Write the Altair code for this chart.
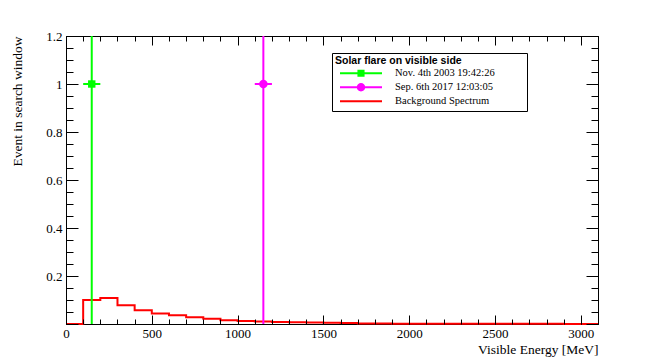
import altair as alt
import pandas as pd

# ---------------- data ----------------
# Background spectrum histogram (100 MeV bins, 0 - 3100 MeV)
bin_low = [0, 100, 200, 300, 400, 500, 600, 700, 800, 900,
           1000, 1100, 1200, 1300, 1400, 1500, 1600, 1700, 1800, 1900,
           2000, 2100, 2200, 2300, 2400, 2500, 2600, 2700, 2800, 2900, 3000]
bin_high_edge = 3100
bkg_values = [0.0, 0.100, 0.108, 0.078, 0.057, 0.044, 0.036, 0.028, 0.022, 0.016,
              0.012, 0.010, 0.008, 0.007, 0.006, 0.005, 0.0045, 0.002, 0.002, 0.0015,
              0.0015, 0.001, 0.001, 0.001, 0.001, 0.0008, 0.0008, 0.0006, 0.0006, 0.0005, 0.0005]

# Solar flare events
flare_labels = ["Nov. 4th 2003 19:42:26", "Sep. 6th 2017 12:03:05"]
flare_energy = [150, 1150]
flare_energy_err = [50, 50]
flare_events = [1.0, 1.0]
flare_events_err = [1.0, 1.0]
flare_colors = ["#00ff00", "#ff00ff"]
flare_markers = ["square", "circle"]
flare_marker_sizes = [55, 72]

# Legend
legend_title = "Solar flare on visible side"
legend_labels = flare_labels + ["Background Spectrum"]
legend_colors = ["#00ff00", "#ff00ff", "#ff0000"]
legend_symbols = [
    "M-1,-0.05H1V0.05H-1Z M-0.17,-0.17H0.17V0.17H-0.17Z",
    "M-1,-0.05H1V0.05H-1Z M0.2,0A0.2,0.2,0,1,1,-0.2,0A0.2,0.2,0,1,1,0.2,0Z",
    "M-1,-0.05H1V0.05H-1Z",
]

# Axis tick values
x_major = [0, 500, 1000, 1500, 2000, 2500, 3000]
x_minor = [0, 100, 200, 300, 400, 500, 600, 700, 800, 900, 1000, 1100, 1200, 1300,
           1400, 1500, 1600, 1700, 1800, 1900, 2000, 2100, 2200, 2300, 2400, 2500,
           2600, 2700, 2800, 2900, 3000, 3100]
y_major = [0, 0.2, 0.4, 0.6, 0.8, 1.0, 1.2]
y_labels = [0.2, 0.4, 0.6, 0.8, 1.0, 1.2]
y_minor = [0, 0.05, 0.1, 0.15, 0.2, 0.25, 0.3, 0.35, 0.4, 0.45, 0.5, 0.55, 0.6,
           0.65, 0.7, 0.75, 0.8, 0.85, 0.9, 0.95, 1.0, 1.05, 1.1, 1.15, 1.2]

# ---------------- tables ----------------
hist_df = pd.DataFrame({
    "energy": bin_low + [bin_high_edge],
    "events": bkg_values + [bkg_values[-1]],
})

flare_df = pd.DataFrame({
    "label": flare_labels,
    "energy": flare_energy,
    "e_lo": [e - d for e, d in zip(flare_energy, flare_energy_err)],
    "e_hi": [e + d for e, d in zip(flare_energy, flare_energy_err)],
    "events": flare_events,
    "ev_lo": [v - d for v, d in zip(flare_events, flare_events_err)],
    "ev_hi": [v + d for v, d in zip(flare_events, flare_events_err)],
    "color": flare_colors,
    "marker": flare_markers,
    "msize": flare_marker_sizes,
})

legend_df = pd.DataFrame({"label": legend_labels})

# ---------------- layout ----------------
W, H = 532, 288
SERIF = "Liberation Serif"

xscale = alt.Scale(domain=[0, 3100], nice=False, zero=False)
yscale = alt.Scale(domain=[0, 1.2], nice=False, zero=False)


def tick_axis(orient, values, size):
    return alt.Axis(orient=orient, offset=-size, tickSize=size, values=values,
                    labels=False, domain=False, grid=False, title="",
                    tickColor="black", tickWidth=1, zindex=1)


main_x = alt.Axis(orient="bottom", values=x_major, format="d", ticks=False, tickSize=0,
                  domain=False, grid=False, labelFont=SERIF, labelFontSize=13,
                  labelColor="black", labelPadding=3, labelFlush=False, labelOverlap=False,
                  title="Visible Energy [MeV]", titleFont=SERIF, titleFontSize=13.5,
                  titleFontWeight="normal", titleColor="black", titleAnchor="end",
                  titleAlign="right", titleBaseline="alphabetic", titleX=W, titleY=29)

main_y = alt.Axis(orient="left", values=y_labels, format="~g", ticks=False, tickSize=0,
                  domain=False, grid=False, labelFont=SERIF, labelFontSize=13,
                  labelColor="black", labelPadding=4, labelFlush=False, labelOverlap=False,
                  title="Event in search window", titleFont=SERIF, titleFontSize=13.5,
                  titleFontWeight="normal", titleColor="black", titleAnchor="end",
                  titleAngle=270, titleAlign="right", titleBaseline="middle",
                  titleX=-49, titleY=0)

pad_tail = "\u00a0" * 11 + "\u200b"
leg = alt.Legend(title=legend_title, orient="none", legendX=266, legendY=17,
                 direction="vertical", fillColor="white", strokeColor="black",
                 padding=3, cornerRadius=0,
                 titleFont="Liberation Sans", titleFontSize=10.5, titleFontWeight="bold",
                 titleColor="black", titlePadding=0, titleAnchor="start",
                 labelFont=SERIF, labelFontSize=10.5, labelColor="black",
                 labelOffset=13, labelLimit=300,
                 labelExpr="datum.label + '" + pad_tail + "'",
                 symbolSize=1764, symbolOffset=5, symbolOpacity=1, symbolStrokeWidth=0,
                 clipHeight=13.5, rowPadding=0)

hist = alt.Chart(hist_df).mark_line(interpolate="step-after", color="#ff0000",
                                    strokeWidth=2).encode(
    x=alt.X("energy:Q", scale=xscale, axis=main_x),
    y=alt.Y("events:Q", scale=yscale, axis=main_y),
)

hbar = alt.Chart(flare_df).mark_rule(strokeWidth=2).encode(
    x=alt.X("e_lo:Q", scale=xscale, axis=tick_axis("bottom", x_major, 9)),
    x2="e_hi:Q",
    y=alt.Y("events:Q", scale=yscale, axis=tick_axis("left", y_major, 12)),
    color=alt.Color("color:N", scale=None),
)

vbar = alt.Chart(flare_df).mark_rule(strokeWidth=2, clip=True).encode(
    x=alt.X("energy:Q", scale=xscale, axis=tick_axis("bottom", x_minor, 5)),
    y=alt.Y("ev_lo:Q", scale=yscale, axis=tick_axis("left", y_minor, 7)),
    y2="ev_hi:Q",
    color=alt.Color("color:N", scale=None),
)

points = alt.Chart(flare_df).mark_point(filled=True, opacity=1).encode(
    x=alt.X("energy:Q", scale=xscale, axis=tick_axis("top", x_major, 9)),
    y=alt.Y("events:Q", scale=yscale, axis=tick_axis("right", y_major, 12)),
    color=alt.Color("color:N", scale=None),
    shape=alt.Shape("marker:N", scale=None),
    size=alt.Size("msize:Q", scale=None),
)

legend_layer = alt.Chart(legend_df).mark_point(filled=True, opacity=0).encode(
    x=alt.XDatum(0, type="quantitative", scale=xscale, axis=tick_axis("top", x_minor, 5)),
    y=alt.YDatum(0, type="quantitative", scale=yscale, axis=tick_axis("right", y_minor, 7)),
    color=alt.Color("label:N", scale=alt.Scale(domain=legend_labels, range=legend_colors),
                    legend=leg),
    shape=alt.Shape("label:N", scale=alt.Scale(domain=legend_labels, range=legend_symbols),
                    legend=leg),
)

chart = alt.layer(hist, hbar, vbar, points, legend_layer).resolve_axis(
    x="independent", y="independent"
).properties(
    width=W, height=H,
    autosize=alt.AutoSizeParams(type="none"),
    padding={"left": 58, "top": 28, "right": 58, "bottom": 34},
    background="white",
).configure(font=SERIF).configure_view(stroke="black", strokeWidth=1)

chart.save("out.html", embed_options={"renderer": "svg", "actions": False})
